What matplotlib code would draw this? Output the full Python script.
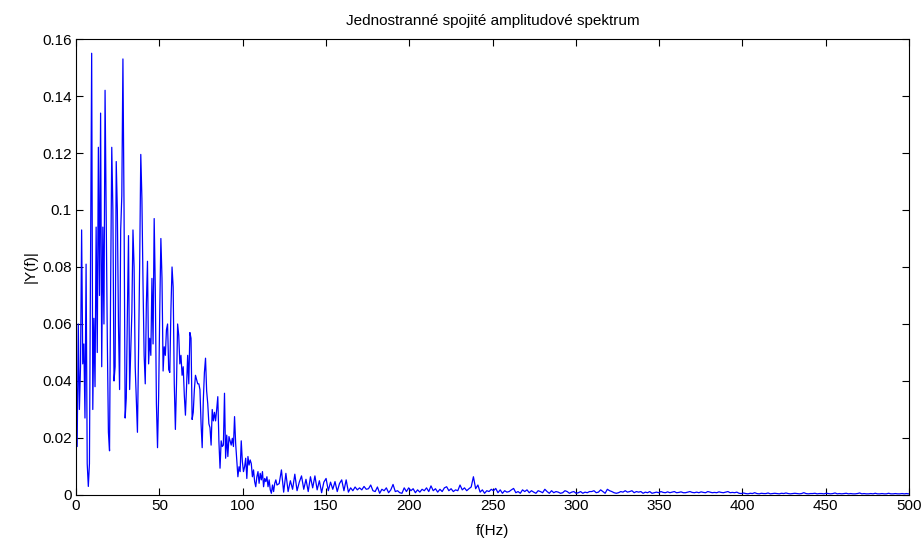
import numpy as np
import matplotlib.pyplot as plt

plt.rcParams['font.family'] = ['Liberation Sans', 'DejaVu Sans']

# one-sided amplitude spectrum
# low band (0 - ~120 Hz), bin step 0.67 Hz
df_main = 0.67
amp_main = [
    0.047, 0.017, 0.060, 0.030, 0.045, 0.093, 0.046, 0.053, 0.027, 0.081,
    0.011, 0.003, 0.011, 0.084, 0.155, 0.030, 0.062, 0.038, 0.094, 0.050,
    0.122, 0.070, 0.134, 0.045, 0.094, 0.060, 0.142, 0.100, 0.055, 0.022,
    0.0155, 0.074, 0.122, 0.100, 0.040, 0.045, 0.117, 0.100, 0.060, 0.037,
    0.093, 0.105, 0.153, 0.100, 0.027, 0.034, 0.064, 0.091, 0.037, 0.050,
    0.064, 0.093, 0.080, 0.045, 0.033, 0.022, 0.050, 0.081, 0.1195, 0.104,
    0.074, 0.049, 0.039, 0.067, 0.082, 0.046, 0.055, 0.049, 0.076, 0.053,
    0.097, 0.072, 0.032, 0.0166, 0.035, 0.065, 0.090, 0.076, 0.0435, 0.052,
    0.049, 0.058, 0.060, 0.044, 0.043, 0.065, 0.080, 0.073, 0.039, 0.023,
    0.039, 0.060, 0.056, 0.046, 0.049, 0.042, 0.045, 0.035, 0.028, 0.038,
    0.049, 0.039, 0.057, 0.055, 0.0265, 0.029, 0.037, 0.042, 0.0405, 0.039,
    0.039, 0.037, 0.025, 0.0166, 0.033, 0.043, 0.048, 0.0365, 0.032, 0.025,
    0.0236, 0.0175, 0.030, 0.026, 0.029, 0.026, 0.030, 0.0345, 0.0187, 0.0094,
    0.019, 0.017, 0.0175, 0.0357, 0.0129, 0.021, 0.0135, 0.0205, 0.019, 0.0175,
    0.0199, 0.017, 0.0275, 0.018, 0.0123, 0.0064, 0.0099, 0.0082, 0.019, 0.0117,
    0.0082, 0.0099, 0.0129, 0.0058, 0.0135, 0.0105, 0.0123, 0.011, 0.0064, 0.0088,
    0.0047, 0.0029, 0.0064, 0.0082, 0.0041, 0.0076, 0.0053, 0.0082, 0.0029, 0.0058,
    0.0047, 0.0064, 0.0029, 0.0053, 0.0018, 0.0006, 0.0035, 0.0012, 0.0041, 0.0053,
    0.0035,
]

# high band (~121 - 500 Hz), bin step 1.34 Hz
df_tail = 1.34
amp_tail = [
    0.004, 0.0088, 0.001, 0.0076, 0.0012, 0.005,
    0.002, 0.0073, 0.0015, 0.0045, 0.0067, 0.002, 0.0055,
    0.0012, 0.0064, 0.0025, 0.0067, 0.0018, 0.005, 0.0008, 0.0045,
    0.0058, 0.0015, 0.0045, 0.002, 0.0047, 0.0012, 0.004,
    0.0053, 0.0015, 0.0053, 0.001, 0.0025, 0.0015, 0.0028, 0.0018,
    0.0025, 0.0018, 0.003, 0.002, 0.0022, 0.0035, 0.0015,
    0.0012, 0.0028, 0.0006, 0.002, 0.0015, 0.0025, 0.0008,
    0.0018, 0.0037, 0.0012, 0.0015, 0.0008, 0.0006, 0.0025, 0.0012,
    0.0025, 0.0015, 0.0022, 0.0008, 0.0018, 0.001, 0.002,
    0.0015, 0.0025, 0.0012, 0.0032, 0.0015, 0.0022, 0.001,
    0.002, 0.0012, 0.0025, 0.0029, 0.0015, 0.0022, 0.0012, 0.0018,
    0.0015, 0.0035, 0.0018, 0.0025, 0.0015, 0.0022, 0.0028, 0.0064,
    0.0022, 0.0035, 0.001, 0.0018, 0.0006, 0.0015, 0.0012, 0.002,
    0.0015, 0.0023, 0.0008, 0.0018, 0.0006, 0.0015, 0.001,
    0.0012, 0.0018, 0.0023, 0.0008, 0.0012, 0.0006, 0.0018,
    0.0012, 0.0018, 0.0008, 0.0015, 0.001, 0.0006, 0.0015, 0.0012,
    0.0008, 0.002, 0.0012, 0.0006, 0.0015, 0.0008, 0.0012,
    0.001, 0.0006, 0.0008, 0.0015, 0.0012, 0.0006, 0.001,
    0.0012, 0.0006, 0.0008, 0.0012, 0.0006, 0.001, 0.0008, 0.0012,
    0.0012, 0.0015, 0.0008, 0.001, 0.0018, 0.0012, 0.0006,
    0.002, 0.0015, 0.0012, 0.0008, 0.0006, 0.0008, 0.0012, 0.001,
    0.0015, 0.001, 0.0012, 0.0015, 0.0008, 0.0012, 0.001,
    0.0012, 0.0006, 0.001, 0.0008, 0.0012, 0.0006, 0.0008,
    # 350 - 400 Hz
    0.001, 0.0008, 0.0012, 0.0009, 0.0008, 0.0011, 0.0008, 0.001, 0.0012, 0.0008,
    0.0009, 0.0011, 0.0008, 0.0008, 0.001, 0.0012, 0.0009, 0.0008, 0.001, 0.0008,
    0.0011, 0.0009, 0.0008, 0.0012, 0.001, 0.0008, 0.0009, 0.0008, 0.0011, 0.0009,
    0.0008, 0.001, 0.0012, 0.0008, 0.0009, 0.0008, 0.001,
    # 400 - 500 Hz
    0.0006, 0.0005, 0.0007, 0.0005, 0.0004, 0.0006, 0.0005, 0.0008, 0.0005, 0.0004,
    0.0006, 0.0005, 0.0005, 0.0007, 0.0004, 0.0005, 0.0006, 0.0005, 0.0004, 0.0006,
    0.0005, 0.0007, 0.0005, 0.0004, 0.0005, 0.0006, 0.0005, 0.0004, 0.0005, 0.0008,
    0.0005, 0.0004, 0.0005, 0.0005, 0.0006, 0.0004, 0.0005, 0.0005, 0.0004, 0.0006,
    0.0005, 0.0004, 0.0005, 0.0007, 0.0004, 0.0005, 0.0004, 0.0005, 0.0006, 0.0004,
    0.0005, 0.0004, 0.0004, 0.0005, 0.0007, 0.0004, 0.0005, 0.0004, 0.0004, 0.0005,
    0.0004, 0.0006, 0.0004, 0.0004, 0.0005, 0.0004, 0.0004, 0.0006, 0.0004, 0.0004,
    0.0005, 0.0004, 0.0004, 0.0005, 0.0004, 0.0005, 0.0004, 0.0004, 0.0005, 0.0004,
]

xticks = [0, 50, 100, 150, 200, 250, 300, 350, 400, 450, 500]
yticks = [0, 0.02, 0.04, 0.06, 0.08, 0.1, 0.12, 0.14, 0.16]
ytick_labels = ['0', '0.02', '0.04', '0.06', '0.08', '0.1', '0.12', '0.14', '0.16']

f_main = np.arange(len(amp_main)) * df_main
f_tail = f_main[-1] + df_tail * np.arange(1, len(amp_tail) + 1)
f = np.concatenate([f_main, f_tail])
amp = np.concatenate([amp_main, amp_tail])

fig = plt.figure(figsize=(9.24, 5.44), dpi=100)
ax = fig.add_axes([0.0823, 0.0901, 0.9015, 0.8382])
ax.plot(f, amp, color='#0000ff', linewidth=0.9)

ax.set_xlim(0, 500)
ax.set_ylim(0, 0.16)
ax.set_xticks(xticks)
ax.set_yticks(yticks)
ax.set_yticklabels(ytick_labels)
ax.tick_params(direction='in', top=True, right=True, length=5, width=0.8,
               labelsize=11, pad=3)
for s in ax.spines.values():
    s.set_linewidth(0.8)

ax.set_title('Jednostranné spojité amplitudové spektrum', fontsize=11, pad=10)
ax.set_xlabel('f(Hz)', fontsize=11, labelpad=8)
ax.set_ylabel('|Y(f)|', fontsize=11, labelpad=3)

plt.savefig('out.png', dpi=100)
